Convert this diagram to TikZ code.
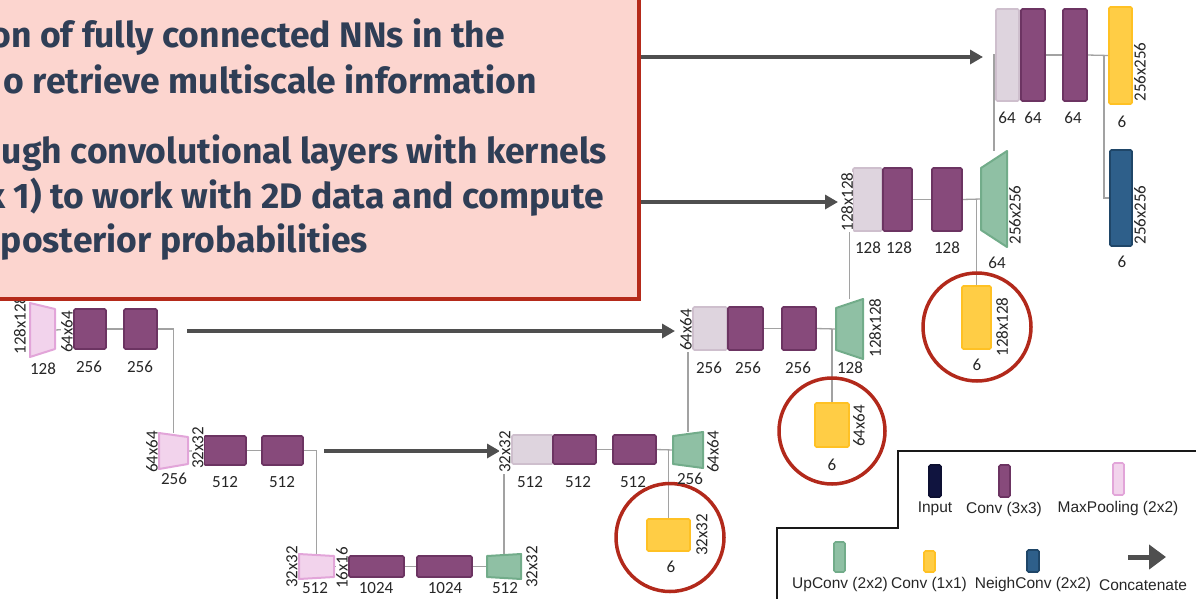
\documentclass[tikz,border=0pt]{standalone}
\usepackage{fontspec}
\setmainfont{Carlito}
\newfontfamily\headfont{Fira Sans}
\newfontfamily\keyfont{Liberation Sans}
\usetikzlibrary{arrows.meta,calc}

\definecolor{convfill}{HTML}{874A7B}
\definecolor{convline}{HTML}{6C3462}
\definecolor{catfill}{HTML}{DED4DE}
\definecolor{catline}{HTML}{CEBFCD}
\definecolor{poolfill}{HTML}{F2D3EC}
\definecolor{poolline}{HTML}{E2A5D9}
\definecolor{upfill}{HTML}{8FC0A4}
\definecolor{upline}{HTML}{72AC8A}
\definecolor{yelfill}{HTML}{FFCD45}
\definecolor{yelline}{HTML}{FFC124}
\definecolor{bluefill}{HTML}{2E5F8A}
\definecolor{blueline}{HTML}{1F4668}
\definecolor{navyfill}{HTML}{10143F}
\definecolor{wiregray}{HTML}{A2A2A2}
\definecolor{arrowgray}{HTML}{4F4F4F}
\definecolor{labelgray}{HTML}{262626}
\definecolor{ringred}{HTML}{B2291B}
\definecolor{boxfill}{HTML}{FCD5CF}
\definecolor{boxred}{HTML}{B52A1A}
\definecolor{boxtext}{HTML}{2F3E56}

\tikzset{
  blk/.style={rounded corners=1.5pt, line width=1.6pt, inner sep=0pt, outer sep=0pt},
  conv/.style={blk, fill=convfill, draw=convline},
  cat/.style={blk, fill=catfill, draw=catline},
  one/.style={blk, fill=yelfill, draw=yelline},
  neigh/.style={blk, fill=bluefill, draw=blueline},
  frame/.style={inner sep=0pt, outer sep=0pt},
  poolshape/.style={fill=poolfill, draw=poolline, line width=2pt, line join=round},
  upshape/.style={fill=upfill, draw=upline, line width=2pt, line join=round},
  wire/.style={draw=wiregray, line width=1.3pt},
  cat arrow/.style={draw=arrowgray, line width=4pt, -{Triangle[length=13pt,width=14pt]}},
  lab/.style={font=\fontsize{17}{17}\selectfont, text=labelgray, inner sep=0.6pt},
  vlab/.style={lab, rotate=90, fill=white},
  ring/.style={circle, draw=ringred, line width=3.5pt, inner sep=0pt},
  keytext/.style={font=\keyfont\fontsize{15.5}{16}\selectfont, text=black!85, inner sep=0pt},
  headline/.style={font=\headfont\bfseries\fontsize{35.5}{40}\selectfont, text=boxtext, inner sep=0pt, anchor=base east},
}

% \netblock{style}{name}{centre}{width}{height}
\newcommand\netblock[5]{\node[#1, minimum width=#4, minimum height=#5] (#2) at (#3) {};}
% \trapblock{name}{style}{left top}{left bottom}{right top}{right bottom}: insets of the corners
\newcommand\trapblock[6]{\draw[#2] ($(#1.north west)+(0,#3)$) -- ($(#1.north east)+(0,#5)$)
  -- ($(#1.south east)+(0,-#6)$) -- ($(#1.south west)+(0,-#4)$) -- cycle;}

\begin{document}
\begin{tikzpicture}[x=1pt, y=-1pt]
\useasboundingbox (0,0) rectangle (1196,598);
\clip (0,0) rectangle (1196,598);

% ---------- block positions ----------
% pooling and up-convolution outlines
\node[frame, minimum width=25, minimum height=54] (p1) at (42.5,330) {};
\node[frame, minimum width=29, minimum height=36] (p2) at (173.5,451) {};
\node[frame, minimum width=35, minimum height=25] (p3) at (316.5,566.5) {};
\node[frame, minimum width=34, minimum height=25] (u3) at (504,566.5) {};
\node[frame, minimum width=30, minimum height=36] (u2) at (688,450) {};
\node[frame, minimum width=27, minimum height=60] (u1) at (849.5,329) {};
\node[frame, minimum width=26, minimum height=96] (u0) at (994,199) {};

% encoder
\netblock{conv}{c1a}{90,329}{32}{40}
\netblock{conv}{c1b}{140.5,329}{33}{40}
\netblock{conv}{c2a}{225,450.5}{42}{29}
\netblock{conv}{c2b}{282.5,450.5}{41}{29}
\netblock{conv}{c3a}{376.5,566.5}{55}{21}
\netblock{conv}{c3b}{444.5,566.5}{55}{21}

% decoder
\netblock{cat}{d2cat}{532.5,449.5}{41}{29}
\netblock{conv}{d2a}{574.5,449.5}{43}{29}
\netblock{conv}{d2b}{634.5,449.5}{43}{29}
\netblock{one}{y2}{668.5,535}{43}{32}

\netblock{cat}{d1cat}{710,328.5}{34}{43}
\netblock{conv}{d1a}{745.5,328.5}{35}{43}
\netblock{conv}{d1b}{799,328.5}{34}{43}
\netblock{one}{y1}{832,425}{34}{44}

\netblock{cat}{d0cat}{867.5,199.5}{29}{63}
\netblock{conv}{d0a}{897.5,199.5}{29}{63}
\netblock{conv}{d0b}{947,199.5}{30}{63}
\netblock{one}{y0}{976.5,317.5}{29}{63}

\netblock{cat}{dtcat}{1007.5,55}{23}{92}
\netblock{conv}{dta}{1033,55}{24}{92}
\netblock{conv}{dtb}{1075,55}{24}{92}
\netblock{one}{ytop}{1120.5,55.5}{23}{97}
\netblock{neigh}{nb}{1121,198}{22}{96}

% ---------- thin connectors (behind the blocks) ----------
\draw[wire] (p1.east) -- (c1a.west);
\draw[wire] (c1a.east) -- (c1b.west);
\draw[wire] (c1b.east) -| (p2.north);
\draw[wire] (p2.east) -- (c2a.west);
\draw[wire] (c2a.east) -- (c2b.west);
\draw[wire] (c2b.east) -| (p3.north);
\draw[wire] (p3.east) -- (c3a.west);
\draw[wire] (c3a.east) -- (c3b.west);
\draw[wire] (c3b.east) -- (u3.west);
\draw[wire] (u3.north) |- (d2cat.west);
\draw[wire] (d2a.east) -- (d2b.west);
\draw[wire] (d2b.east) -- (u2.west);
\draw[wire] (y2.north) -- (y2.north |- d2b.east);
\draw[wire] (u2.north) |- (d1cat.west);
\draw[wire] (d1a.east) -- (d1b.west);
\draw[wire] (d1b.east) -- (u1.west);
\draw[wire] (y1.north) -- (y1.north |- d1b.east);
\draw[wire] (u1.north) |- (d0cat.west);
\draw[wire] (d0a.east) -- (d0b.west);
\draw[wire] (d0b.east) -- (u0.west);
\draw[wire] (y0.north) -- (y0.north |- d0b.east);
\draw[wire] (u0.north) |- (dtcat.west);
\draw[wire] (dta.east) -- (dtb.west);
\draw[wire] (dtb.east) -- (ytop.west);
\draw[wire] ($(ytop.west)+(-5,0)$) |- (nb.west);

% ---------- blocks drawn over the wires ----------
\trapblock{p1}{poolshape}{0}{0}{6}{8}
\trapblock{p2}{poolshape}{0}{0}{4}{5}
\trapblock{p3}{poolshape}{0}{0}{2}{2}
\trapblock{u3}{upshape}{2}{2}{0}{0}
\trapblock{u2}{upshape}{4}{4}{0}{0}
\trapblock{u1}{upshape}{9}{9}{0}{0}
\trapblock{u0}{upshape}{17}{17}{0}{0}

\netblock{conv}{c1a}{90,329}{32}{40}
\netblock{conv}{c1b}{140.5,329}{33}{40}
\netblock{conv}{c2a}{225,450.5}{42}{29}
\netblock{conv}{c2b}{282.5,450.5}{41}{29}
\netblock{conv}{c3a}{376.5,566.5}{55}{21}
\netblock{conv}{c3b}{444.5,566.5}{55}{21}
\netblock{cat}{d2cat}{532.5,449.5}{41}{29}
\netblock{conv}{d2a}{574.5,449.5}{43}{29}
\netblock{conv}{d2b}{634.5,449.5}{43}{29}
\netblock{one}{y2}{668.5,535}{43}{32}
\netblock{cat}{d1cat}{710,328.5}{34}{43}
\netblock{conv}{d1a}{745.5,328.5}{35}{43}
\netblock{conv}{d1b}{799,328.5}{34}{43}
\netblock{one}{y1}{832,425}{34}{44}
\netblock{cat}{d0cat}{867.5,199.5}{29}{63}
\netblock{conv}{d0a}{897.5,199.5}{29}{63}
\netblock{conv}{d0b}{947,199.5}{30}{63}
\netblock{one}{y0}{976.5,317.5}{29}{63}
\netblock{cat}{dtcat}{1007.5,55}{23}{92}
\netblock{conv}{dta}{1033,55}{24}{92}
\netblock{conv}{dtb}{1075,55}{24}{92}
\netblock{one}{ytop}{1120.5,55.5}{23}{97}
\netblock{neigh}{nb}{1121,198}{22}{96}

% ---------- skip connections ----------
\coordinate (s0) at (640,57);
\coordinate (s1) at (640,202);
\coordinate (s2) at (187,331);
\coordinate (s3) at (324,451);
\draw[cat arrow] (s0) -- ($(s0 -| dtcat.west)+(-13,0)$);
\draw[cat arrow] (s1) -- ($(s1 -| d0cat.west)+(-15,0)$);
\draw[cat arrow] (s2) -- ($(s2 -| d1cat.west)+(-18,0)$);
\draw[cat arrow] (s3) -- ($(s3 -| d2cat.west)+(-12,0)$);

% ---------- 1x1 output rings ----------
\node[ring, minimum size=108] (r2) at (670,537.5) {};
\node[ring, minimum size=106] (r1) at (832,431) {};
\node[ring, minimum size=108] (r0) at (977,327) {};

% ---------- sizes and channel counts ----------
\node[vlab] (l1) at (20,325) {128x128};
\node[lab] (l2) at (43,369) {128};
\node[vlab] (l3) at (67,332) {64x64};
\node[lab] (l4) at (89,367) {256};
\node[lab] (l5) at (140,367) {256};
\node[vlab] (l6) at (152,452) {64x64};
\node[lab] (l7) at (174,479) {256};
\node[vlab] (l8) at (198,448) {32x32};
\node[lab] (l9) at (225,482) {512};
\node[lab] (l10) at (282,482) {512};
\node[vlab] (l11) at (292,567) {32x32};
\node[lab] (l12) at (315,588) {512};
\node[vlab] (l13) at (342,568) {16x16};
\node[lab] (l14) at (376,588) {1024};
\node[lab] (l15) at (445,588) {1024};
\node[lab] (l16) at (505,588) {512};
\node[vlab] (l17) at (532,567) {32x32};

\node[vlab] (m1) at (505,452) {32x32};
\node[lab] (m2) at (530,482) {512};
\node[lab] (m3) at (578,482) {512};
\node[lab] (m4) at (633,482) {512};
\node[lab] (m5) at (690,479) {256};
\node[vlab] (m6) at (713,452) {64x64};
\node[vlab] (m7) at (702,535) {32x32};
\node[lab] (m8) at (671,567) {6};

\node[vlab] (n1) at (686,330) {64x64};
\node[lab] (n2) at (709,368) {256};
\node[lab] (n3) at (748,368) {256};
\node[lab] (n4) at (798,368) {256};
\node[lab] (n5) at (850,368) {128};
\node[vlab] (n6) at (875,328) {128x128};
\node[vlab] (n7) at (859,426) {64x64};
\node[lab] (n8) at (832,465) {6};

\node[vlab] (o1) at (847,202) {128x128};
\node[lab] (o2) at (868,248) {128};
\node[lab] (o3) at (899,248) {128};
\node[lab] (o4) at (947,248) {128};
\node[lab] (o5) at (997,263) {64};
\node[vlab] (o6) at (1015,215) {256x256};
\node[vlab] (o7) at (1002,327) {128x128};
\node[lab] (o8) at (977,365) {6};

\node[lab] (t1) at (1007,118) {64};
\node[lab] (t2) at (1033,118) {64};
\node[lab] (t3) at (1073,118) {64};
\node[lab] (t4) at (1122,122) {6};
\node[vlab] (t5) at (1140,72) {256x256};
\node[vlab] (t6) at (1140,215) {256x256};
\node[lab] (t7) at (1122,262) {6};

% ---------- legend ----------
\coordinate (k1) at (1200,451);
\coordinate (k2) at (898,451);
\coordinate (k3) at (898,528);
\coordinate (k4) at (777,528);
\coordinate (k5) at (777,602);
\draw[line width=1.8pt, black!90] (k1) -- (k2) -- (k3) -- (k4) -- (k5);

\node[blk, fill=navyfill, draw=navyfill!80!black, minimum width=12, minimum height=32] (kin) at (935,481) {};
\node[conv, minimum width=11, minimum height=32] (kconv) at (1004.5,481) {};
\node[blk, fill=poolfill, draw=poolline, minimum width=11, minimum height=32] (kpool) at (1118.5,479) {};
\node[blk, fill=upfill, draw=upline, minimum width=11, minimum height=30] (kup) at (839.5,557) {};
\node[one, minimum width=11, minimum height=21] (kone) at (929.5,561.5) {};
\node[neigh, minimum width=12, minimum height=22] (kneigh) at (1033,561) {};
\coordinate (ka) at (1128,557);
\coordinate (kb) at (1166,557);
\draw[draw=arrowgray, line width=5pt, -{Triangle[length=17pt,width=24pt]}] (ka) -- (kb);

\node[keytext] (kinl) at (935,509) {Input};
\node[keytext] (kconvl) at (1004,509) {Conv (3x3)};
\node[keytext] (kpooll) at (1118,508) {MaxPooling (2x2)};
\node[keytext] (kupl) at (840,584) {UpConv (2x2)};
\node[keytext] (konel) at (929,584) {Conv (1x1)};
\node[keytext] (kneighl) at (1033,584) {NeighConv (2x2)};
\node[keytext] (kcatl) at (1143,585) {Concatenate};

% ---------- note panel ----------
\draw[fill=boxfill, draw=boxred, line width=4.5pt] (-20,-20) rectangle (639,299);
\node[headline] (h1) at (505,47) {on of fully connected NNs in the};
\node[headline] (h2) at (537,93) {o retrieve multiscale information};
\node[headline] (h3) at (607,163) {ugh convolutional layers with kernels};
\node[headline] (h4) at (604,208) {x 1) to work with 2D data and compute};
\node[headline] (h5) at (368,252) {posterior probabilities};
\end{tikzpicture}
\end{document}
